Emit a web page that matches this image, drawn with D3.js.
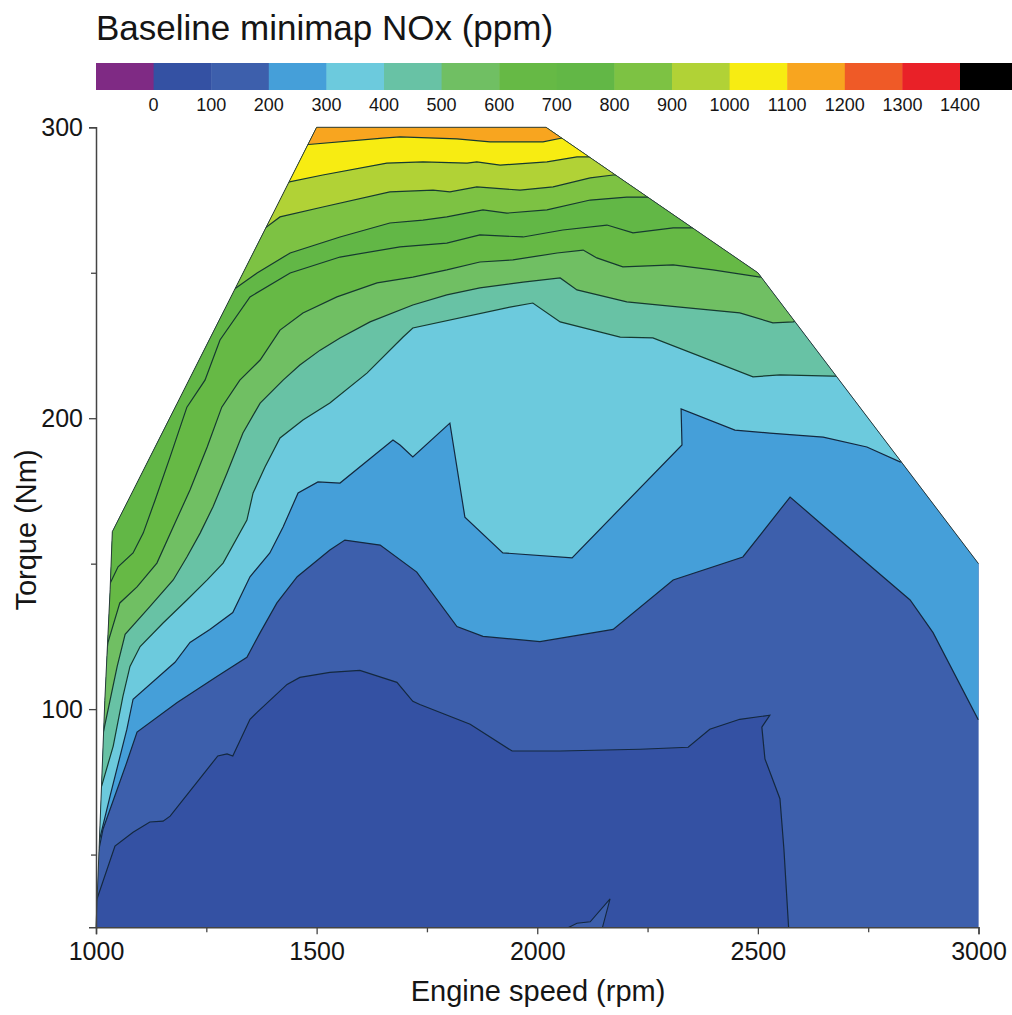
<!DOCTYPE html>
<html>
<head>
<meta charset="utf-8">
<script src="https://cdn.jsdelivr.net/npm/d3@7"></script>
<style>
  body { margin: 0; background: #fff; }
  svg text { font-family: "Liberation Sans", Arial, sans-serif; fill: #151515; }
</style>
</head>
<body>
<svg id="chart" width="1012" height="1015"></svg>
<script>
// colour bar: band edges and colours (first band < 0, last band > 1400)
var cbarTicks = [0,100,200,300,400,500,600,700,800,900,1000,1100,1200,1300,1400];
var bandColors = ["#7f2a84","#3451a3","#3d5fac","#459fd9","#6ccadd","#68c2a5","#70bf63",
                  "#66b945","#62b746","#7dc243","#b1d236","#f7ec12","#f8a51f","#ef5a27","#e92128","#000000"];

var xTicks = [1000,1500,2000,2500,3000];
var xMinor = [1250,1750,2250,2750];
var yTicks = [100,200,300];
var yMinor = [50,150,250];

// measured map outline [rpm, Nm]
var envelope = [[1000,25],[1002,33],[1007,52],[1020,103],[1032,141],[1037,161],
                [1500,300],[2020,300],[2500,250],[3000,150],[3000,25]];

// contour lines [rpm, Nm]
var line100 = [[997,32.4],[1043,52.9],[1084,57.7],[1122,61.2],[1152,61.5],[1168,63.2],[1276,83.9],
  [1297,84.6],[1310,83.9],[1349,96.5],[1365,98.9],[1433,108.5],[1462,110.9],[1530,112.6],[1598,113.3],
  [1682,109.2],[1718,102.7],[1734,101.6],[1848,94.8],[1943,85.6],[2052,85.6],[2233,86.2],[2342,86.9],
  [2391,93.1],[2459,96.5],[2527,97.9],[2509,93.8],[2516,82.9],[2550,69.2],[2559,51.9],[2570,24]];
var line200 = [[999,46],[1016,58.8],[1070,81.8],[1093,92.1],[1184,102.3],[1274,111.2],[1342,117.8],
  [1372,126.3],[1410,136.5],[1456,145.5],[1530,154.7],[1564,158.1],[1644,156.4],[1727,147.1],
  [1818,128.4],[1877,125],[2006,123.2],[2172,127.4],[2308,144.4],[2466,152.3],[2573,172.9],
  [2641,164],[2845,137.5],[2897,126.3],[2999,96.5],[3010,96.5]];
var line300 = [[1003,52],[1032,70.2],[1070,93.1],[1084,103.4],[1179,116.1],[1213,122.9],[1258,127.4],
  [1310,133.2],[1349,145.5],[1394,153.7],[1424,162.6],[1458,174.3],[1503,178.1],[1553,177.7],
  [1673,192.5],[1689,190.8],[1718,186.7],[1802,198.3],[1836,166],[1922,153.7],[2079,152],
  [2328,190.8],[2326,203.2],[2448,195.9],[2527,194.9],[2648,193.5],[2747,190.1],[2822,185],[2830,185]];
var line400 = [[1006,70],[1039,87.3],[1061,104.4],[1077,114.7],[1100,121.5],[1152,129.6],[1206,137.5],
  [1252,144.4],[1288,150.2],[1342,165],[1356,174.3],[1383,183.2],[1417,193.2],[1469,199.4],
  [1530,205.2],[1614,215.5],[1696,227.9],[1718,231],[1938,238.2],[1990,239.6],[2052,233.1],
  [2188,227.9],[2262,227.6],[2489,214.2],[2550,214.9],[2670,214.5],[2685,214.5]];
var line500 = [[1010,87.3],[1048,114.7],[1066,125.7],[1122,135.2],[1175,144.4],[1206,152.3],
  [1236,160.5],[1265,169.5],[1297,181.2],[1333,194.9],[1372,205.2],[1424,213.1],[1462,218.3],
  [1508,223.4],[1553,227.6],[1621,233.1],[1718,238.9],[1795,242.4],[1870,244.8],[1968,246.8],
  [2052,248.2],[2090,244.1],[2203,240],[2324,238.2],[2459,236.2],[2534,232.8],[2580,233.1],[2590,233.5]];
var line600 = [[1014,106],[1027,122.9],[1054,136.5],[1093,142],[1138,150.2],[1179,164],[1213,175.3],
  [1252,190.1],[1285,203.8],[1326,213.1],[1372,220],[1417,230.3],[1469,236.2],[1546,241.7],
  [1637,246.5],[1718,248.5],[1795,251],[1870,253.7],[1945,254.4],[2045,256.8],[2104,257.8],
  [2135,255.1],[2194,252],[2308,252.7],[2398,251],[2505,248.5],[2515,249.5]];
var line700 = [[1025,141],[1050,148.9],[1084,153.7],[1107,160.5],[1134,171.9],[1168,186.7],[1206,203.8],
  [1247,213.1],[1281,226.9],[1349,241.7],[1440,249.9],[1553,255.4],[1689,258.9],[1795,260.2],
  [1870,263],[1968,262.3],[2058,264.7],[2158,266.4],[2217,263.7],[2308,265.4],[2346,265.4],[2360,265.5]];
var line800 = [[1305,243.5],[1365,249.9],[1440,256.8],[1553,262.3],[1666,267.1],[1741,268.1],[1795,269.2],
  [1877,271.6],[1931,270.5],[2022,271.6],[2120,275],[2203,276],[2244,276],[2255,276]];
var line900 = [[1380,265],[1417,269.2],[1514,272.6],[1666,277.8],[1764,278.4],[1802,277.8],[1863,279.5],
  [1961,278.4],[2036,279.5],[2120,282.6],[2172,283.6],[2185,283.6]];
var line1000 = [[1430,281],[1514,283.6],[1659,287.7],[1741,288.1],[1841,287.7],[1863,288.1],[1916,287],
  [2022,288.1],[2090,289.8],[2113,289.8],[2125,289.8]];
var line1100 = [[1475,294],[1650,296.3],[1689,296.7],[1818,296],[1893,295],[1938,295],[2013,295],[2062,296.5]];
// small closed contour at the bottom edge
var wedge = [[2065,24.5],[2090,26.4],[2120,26.9],[2165,34.8],[2147,24.5]];

var contourLevels = [100,200,300,400,500,600,700,800,900,1000,1100];
var contourLines = [line100,line200,line300,line400,line500,line600,line700,line800,line900,line1000,line1100];

var svg = d3.select("#chart");
var x = d3.scaleLinear().domain([1000,3000]).range([96,978.5]);
var y = d3.scaleLinear().domain([25,300]).range([927.3,127.3]);
var line = d3.line().x(function(d){ return x(d[0]); }).y(function(d){ return y(d[1]); });

// region above a contour line, closed outside the map (it is clipped anyway)
function regionAbove(pts) {
    var a = pts[0], b = pts[pts.length-1];
    var tail = b[1] <= 25 ? [[b[0],0],[3300,0]] : [[3300,b[1]]];
    var head = a[1] <= 25 ? [[700,0],[a[0],0]] : [[700,a[1]]];
    return pts.concat(tail, [[3300,400],[700,400]], head);
}

svg.append("clipPath").attr("id","mapclip")
   .append("path").attr("d", line(envelope) + "Z");

var plot = svg.append("g").attr("clip-path","url(#mapclip)");
plot.append("path").attr("d", line(envelope) + "Z").attr("fill", bandColors[1]);

plot.selectAll("path.band")
    .data(contourLines).enter()
    .append("path").attr("class","band")
    .attr("d", function(d){ return line(regionAbove(d)) + "Z"; })
    .attr("fill", function(d,i){ return bandColors[contourLevels[i]/100 + 1]; });

plot.append("path").attr("d", line(wedge) + "Z")
    .attr("fill", bandColors[2]).attr("stroke","#14283f").attr("stroke-width",1.1);

plot.selectAll("path.cline")
    .data(contourLines).enter()
    .append("path").attr("class","cline")
    .attr("d", function(d){ return line(d); })
    .attr("fill","none")
    .attr("stroke", function(d,i){ return i < 3 ? "#14283f" : "#163a30"; })
    .attr("stroke-width",1.2);

// map outline
svg.append("path").attr("d", line(envelope.slice(0, envelope.length-1)))
   .attr("fill","none").attr("stroke","#2a3a3a").attr("stroke-width",1);

// axes
svg.append("g").attr("transform","translate(0,927.3)")
    .call(d3.axisBottom(x).tickValues(xTicks).tickSize(7).tickPadding(8).tickFormat(d3.format("d")));
svg.append("g").attr("transform","translate(0,927.3)")
    .call(d3.axisBottom(x).tickValues(xMinor).tickSize(5).tickFormat(""))
    .select(".domain").remove();
svg.append("g").attr("transform","translate(96,0)")
    .call(d3.axisLeft(y).tickValues(yTicks).tickSize(7).tickPadding(6));
svg.append("g").attr("transform","translate(96,0)")
    .call(d3.axisLeft(y).tickValues(yMinor).tickSize(5).tickFormat(""))
    .select(".domain").remove();

svg.selectAll(".domain").attr("stroke","#444").attr("stroke-width",1.5);
svg.selectAll(".tick line").attr("stroke","#444").attr("stroke-width",1.3);
svg.selectAll(".tick text").style("font-size","25px").attr("fill","#151515");

svg.append("text").attr("x",538).attr("y",1001).attr("text-anchor","middle")
   .style("font-size","29px").text("Engine speed (rpm)");
svg.append("text").attr("transform","translate(36,530) rotate(-90)").attr("text-anchor","middle")
   .style("font-size","29px").text("Torque (Nm)");

// title and colour bar
svg.append("text").attr("x",96).attr("y",40).style("font-size","35px").text("Baseline minimap NOx (ppm)");

var cb = d3.scaleLinear().domain([-100,1500]).range([96,1017.6]);
svg.selectAll("rect.cbar")
   .data(bandColors).enter()
   .append("rect").attr("class","cbar")
   .attr("x", function(d,i){ return cb(i*100 - 100); })
   .attr("width", function(d,i){ return cb(i*100) - cb(i*100 - 100) + 0.5; })
   .attr("y",63).attr("height",27)
   .attr("fill", function(d){ return d; });
svg.selectAll("text.cbl")
   .data(cbarTicks).enter()
   .append("text").attr("class","cbl")
   .attr("x", function(d){ return cb(d); }).attr("y",111)
   .attr("text-anchor","middle").style("font-size","18px").attr("fill","#333")
   .text(function(d){ return d; });
</script>
</body>
</html>
